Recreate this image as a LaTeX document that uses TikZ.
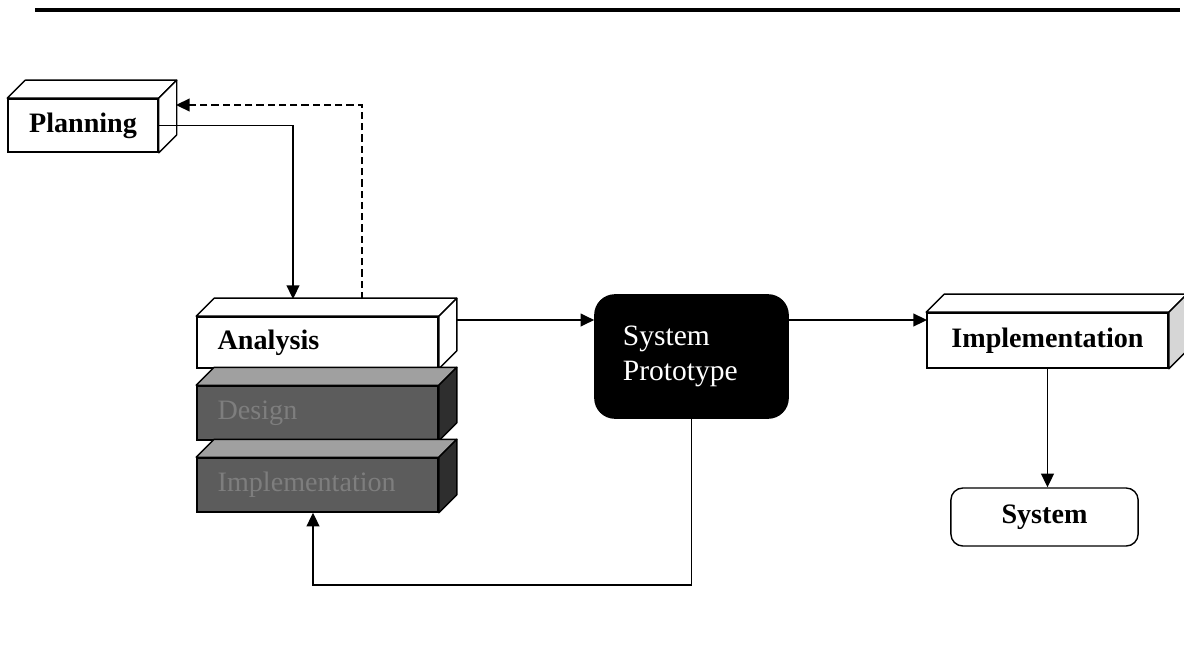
\documentclass[tikz,border=0pt]{standalone}
\usepackage{fontspec}
\setmainfont{Liberation Serif}
\usetikzlibrary{arrows.meta}
\definecolor{stackfront}{HTML}{5C5C5C}
\definecolor{stacktop}{HTML}{A0A0A0}
\definecolor{stackside}{HTML}{2E2E2E}
\definecolor{stacktext}{HTML}{7E7E7E}
\definecolor{implside}{HTML}{D6D6D6}

\begin{document}
\begin{tikzpicture}[x=0.025cm,y=-0.025cm,
    stage/.style={draw=black,fill=white,line width=1pt,inner xsep=0.52cm,text width=4.99cm,minimum height=1.28cm,align=left,font=\fontsize{20}{24}\selectfont\bfseries},
    stackbox/.style={stage,fill=stackfront,minimum height=1.35cm,text=stacktext,font=\fontsize{20}{24}\selectfont},
    planbox/.style={draw=black,fill=white,line width=1pt,minimum width=3.75cm,minimum height=1.33cm,align=center,font=\fontsize{20}{24}\selectfont\bfseries},
    protobox/.style={draw=black,fill=black,rounded corners=0.5cm,line width=1pt,minimum height=3.08cm,inner xsep=0.7cm,text width=3.43cm,align=left,text=white,font=\fontsize{21}{25}\selectfont},
    resultbox/.style={draw=black,fill=white,rounded corners=0.3cm,line width=1pt,minimum width=4.68cm,minimum height=1.45cm,align=center,font=\fontsize{20}{24}\selectfont\bfseries},
    flow/.style={draw=black,line width=1pt,-{Triangle[length=0.34cm,width=0.32cm]}},
    back/.style={flow,dash pattern=on 5pt off 3pt},
    face/.style={draw=black,line width=1pt,line join=round}
]
\useasboundingbox (0,0) rectangle (1184,659);
\draw[line width=2.8pt] (35,10) -- (1180,10);
% stages
\node[planbox] (plan) at (83,125.5) {Planning};
\node[stage] (ana) at (317.5,342.5) {Analysis};
\node[stackbox] (des) at (317.5,413) {Design};
\node[stackbox] (stk) at (317.5,485) {Implementation};
\node[protobox] (sp) at (691.5,356.5) {System\\Prototype};
\node[stage,inner xsep=0cm,text width=6.03cm,align=center,minimum height=1.38cm] (impl) at (1047.5,340.5) {Implementation};
\node[resultbox] (sys) at (1044.5,517) {System};
% box depth
\foreach \b/\top/\side in {plan/white/white, ana/white/white, des/stacktop/stackside, stk/stacktop/stackside, impl/white/implside} {
  \draw[face,fill=\top] (\b.north west) -- ++(18,-18) -- ([shift={(18,-18)}]\b.north east) -- (\b.north east) -- cycle;
  \draw[face,fill=\side] (\b.north east) -- ++(18,-18) -- ([shift={(18,-18)}]\b.south east) -- (\b.south east) -- cycle;
}
% connectors
\coordinate (anaIn) at (293,299);
\coordinate (anaOut) at (362,299);
\coordinate (planIn) at (176,105);
\coordinate (anaR) at (456,320);
\coordinate (implIn) at (927,320);
\coordinate (loop) at (313,585);
\draw[flow] (plan.east) -| (anaIn);
\draw[back] (anaOut) |- (planIn);
\draw[flow] (anaR) -- (anaR -| sp.west);
\draw[flow] (implIn -| sp.east) -- (implIn);
\draw[flow] (impl.south) -- (impl.south |- sys.north);
\draw[flow] (sp.south) |- (loop) -- (stk.south -| loop);
\end{tikzpicture}
\end{document}
